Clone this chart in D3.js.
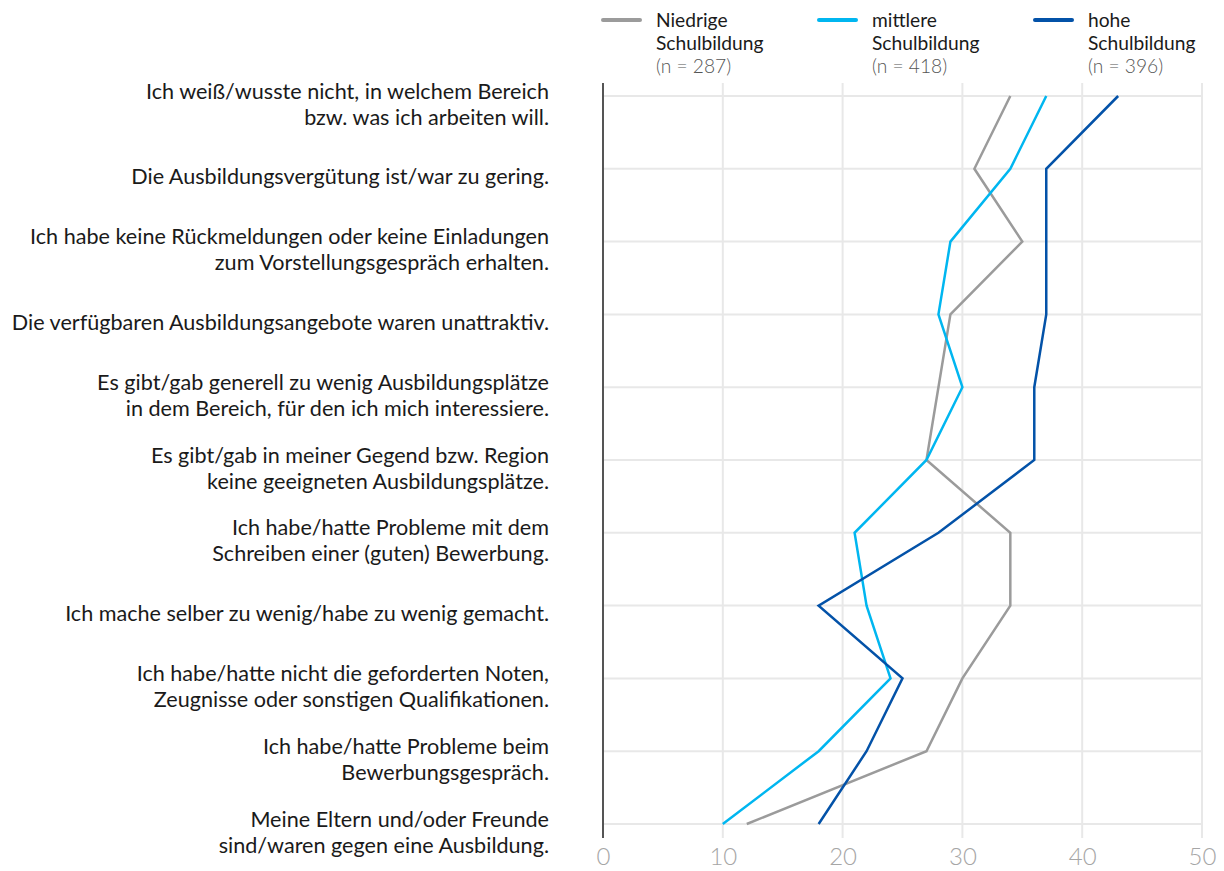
<!DOCTYPE html>
<html>
<head>
<meta charset="utf-8">
<script src="https://cdn.jsdelivr.net/npm/d3@7"></script>
<style>
  body { margin: 0; background: #fff; }
  svg { font-family: Lato, "Noto Sans", sans-serif; }
</style>
</head>
<body>
<script>
// Categories (top to bottom), each as an array of label lines
var categories = [
  ["Ich weiß/wusste nicht, in welchem Bereich", "bzw. was ich arbeiten will."],
  ["Die Ausbildungsvergütung ist/war zu gering."],
  ["Ich habe keine Rückmeldungen oder keine Einladungen", "zum Vorstellungsgespräch erhalten."],
  ["Die verfügbaren Ausbildungsangebote waren unattraktiv."],
  ["Es gibt/gab generell zu wenig Ausbildungsplätze", "in dem Bereich, für den ich mich interessiere."],
  ["Es gibt/gab in meiner Gegend bzw. Region", "keine geeigneten Ausbildungsplätze."],
  ["Ich habe/hatte Probleme mit dem", "Schreiben einer (guten) Bewerbung."],
  ["Ich mache selber zu wenig/habe zu wenig gemacht."],
  ["Ich habe/hatte nicht die geforderten Noten,", "Zeugnisse oder sonstigen Qualifikationen."],
  ["Ich habe/hatte Probleme beim", "Bewerbungsgespräch."],
  ["Meine Eltern und/oder Freunde", "sind/waren gegen eine Ausbildung."]
];

var niedrig = [34, 31, 35, 29, 28, 27, 34, 34, 30, 27, 12];
var mittel  = [37, 34, 29, 28, 30, 27, 21, 22, 24, 18, 10];
var hoch    = [43, 37, 37, 37, 36, 36, 28, 18, 25, 22, 18];

var seriesNames = [["Niedrige", "Schulbildung", "(n = 287)"],
                   ["mittlere", "Schulbildung", "(n = 418)"],
                   ["hohe", "Schulbildung", "(n = 396)"]];
var seriesColors = ["#9b9b9b", "#00b6f0", "#0352a8"];
var xTicks = [0, 10, 20, 30, 40, 50];

var series = [niedrig, mittel, hoch];

var width = 1224, height = 871;
var margin = { top: 83, right: 22, bottom: 33, left: 603 };

var svg = d3.select("body").append("svg")
  .attr("width", width)
  .attr("height", height);

var x = d3.scaleLinear().domain([0, 50]).range([margin.left, width - margin.right]);
var y = d3.scalePoint().domain(d3.range(categories.length))
  .range([96, 824]);

// vertical gridlines
svg.append("g").selectAll("line")
  .data(xTicks.slice(1))
  .enter().append("line")
  .attr("x1", d => x(d)).attr("x2", d => x(d))
  .attr("y1", margin.top).attr("y2", height - margin.bottom)
  .attr("stroke", "#e8e8e8").attr("stroke-width", 2);

// horizontal gridlines
svg.append("g").selectAll("line")
  .data(d3.range(categories.length))
  .enter().append("line")
  .attr("x1", x(0)).attr("x2", x(50))
  .attr("y1", d => y(d)).attr("y2", d => y(d))
  .attr("stroke", "#e8e8e8").attr("stroke-width", 2);

// x axis tick labels
var xAxis = d3.axisBottom(x).tickValues(xTicks).tickSize(0).tickPadding(0);
var gx = svg.append("g")
  .attr("transform", "translate(0," + (height - margin.bottom) + ")")
  .call(xAxis);
gx.select(".domain").remove();
gx.selectAll("text")
  .attr("dy", "0.71em")
  .attr("y", 10)
  .attr("font-size", 24)
  .attr("font-weight", 300)
  .attr("font-family", "Lato, sans-serif")
  .attr("fill", "#a6a6a6");

// zero axis line
svg.append("line")
  .attr("x1", x(0)).attr("x2", x(0))
  .attr("y1", margin.top).attr("y2", height - margin.bottom)
  .attr("stroke", "#555").attr("stroke-width", 2);

// category labels
var lineH = 26;
var labels = svg.append("g").selectAll("text")
  .data(categories)
  .enter().append("text")
  .attr("text-anchor", "end")
  .attr("font-size", 21.6)
  .attr("fill", "#1a1a1a")
  .attr("transform", (d, i) => "translate(549," + (y(i) + 8 - (d.length - 1) * lineH / 2) + ")");
labels.selectAll("tspan")
  .data(d => d)
  .enter().append("tspan")
  .attr("x", 0)
  .attr("y", (d, i) => i * lineH)
  .attr("dy", "0.35em")
  .text(d => d);

// lines
var line = d3.line()
  .x(d => x(d))
  .y((d, i) => y(i));

svg.append("g").selectAll("path")
  .data(series)
  .enter().append("path")
  .attr("d", line)
  .attr("fill", "none")
  .attr("stroke", (d, i) => seriesColors[i])
  .attr("stroke-width", 2.5)
  .attr("stroke-linejoin", "miter");

// legend
var legend = svg.append("g").selectAll("g")
  .data(seriesNames)
  .enter().append("g")
  .attr("transform", (d, i) => "translate(" + (603 + i * 216) + ",0)");
legend.append("line")
  .attr("x1", 0).attr("x2", 37)
  .attr("y1", 20).attr("y2", 20)
  .attr("stroke", (d, i) => seriesColors[i])
  .attr("stroke-width", 4)
  .attr("stroke-linecap", "round");
var lt = legend.append("text").attr("font-size", 19.2);
lt.selectAll("tspan")
  .data(d => d)
  .enter().append("tspan")
  .attr("x", 53)
  .attr("y", (d, i) => 20 + i * 23)
  .attr("dy", "0.35em")
  .attr("fill", (d, i) => i === 2 ? "#555" : "#1a1a1a")
  .attr("font-weight", (d, i) => i === 2 ? 300 : 400)
  .text(d => d);
</script>
</body>
</html>
